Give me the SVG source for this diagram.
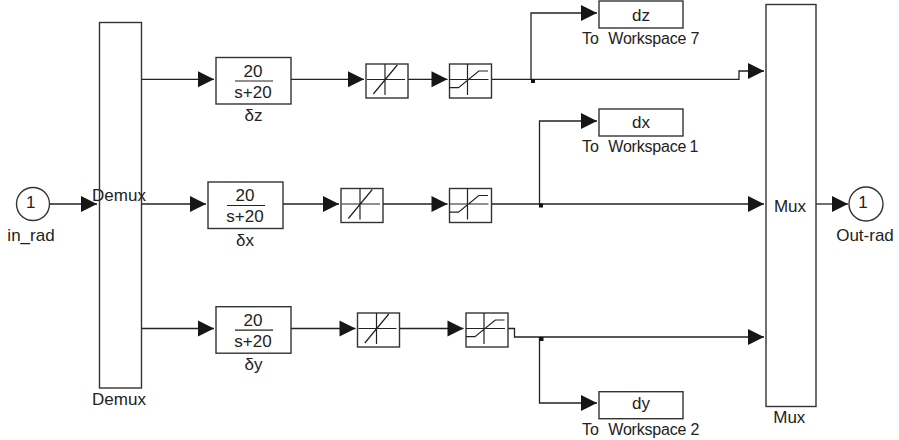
<svg xmlns="http://www.w3.org/2000/svg" width="899" height="440" viewBox="0 0 899 440">
<style>
.b{fill:#fff;stroke:#333;stroke-width:1.4}
.c{fill:none;stroke:#222;stroke-width:1.3;marker-end:url(#a)}
.g{fill:none;stroke:#222;stroke-width:1.2}
text{font-family:"Liberation Sans",Arial,sans-serif;font-size:17px;fill:#222;text-anchor:middle}
.w{font-size:16px;text-anchor:start}
.s{letter-spacing:-.2px}
</style>
<defs>
<marker id="a" markerUnits="userSpaceOnUse" markerWidth="16" markerHeight="16" refX="16" refY="8" orient="auto" overflow="visible"><path d="M0 0L16 8L0 16z" fill="#161616"/></marker>
<g id="dz"><rect class="b" width="42" height="34"/><path class="g" d="M1 15.500H39M19 0V31M7.300 30L31.300 1"/></g>
<g id="st"><rect class="b" width="42" height="34"/><path class="g" d="M0 23.700H9L29.300 7H38.500M0 15.500H39M18 0V31"/></g>
<g id="tf"><rect class="b" width="75" height="46.500"/><path class="g" d="M19 23.500H57"/></g>
</defs>
<g id="connectors">
<path class="c" d="M50 204H97"/>
<path class="c" d="M141.500 79.300H214"/>
<path class="c" d="M291 79.300H364"/>
<path class="c" d="M408 79.300H447.500"/>
<path class="c" d="M491.500 79.300H739V71H764"/>
<path class="c" d="M531 79.300V13H597"/>
<path class="c" d="M141.500 204H206"/>
<path class="c" d="M283 204H339"/>
<path class="c" d="M383 204H447.500"/>
<path class="c" d="M491.500 204H764"/>
<path class="c" d="M539.500 204V121H597"/>
<path class="c" d="M816 204H848"/>
<path class="c" d="M141.500 328.500H214"/>
<path class="c" d="M291 328.500H355.500"/>
<path class="c" d="M399.500 328.500H463.500"/>
<path class="c" d="M508 328.500H514.500V337H764"/>
<path class="c" d="M539.500 337V403H597"/>
<rect x="531" y="79" width="4" height="4" fill="#111"/>
<rect x="539" y="203.500" width="4" height="4" fill="#111"/>
<rect x="539.500" y="337" width="4" height="4" fill="#111"/>
</g>
<g id="in_rad"><circle class="b" cx="33" cy="204" r="16.500"/><text x="30.700" y="207.500">1</text><text x="31" y="240.700">in_rad</text></g>
<g id="demux"><rect class="b" x="99.500" y="22.500" width="42" height="365.500"/><text x="119" y="201">Demux</text><text x="119" y="405">Demux</text></g>
<g id="tf-z"><use href="#tf" x="216" y="57.500"/><text x="253" y="77">20</text><text x="253" y="98.300">s+20</text><text x="253.500" y="120.700">δz</text></g>
<g id="tf-x"><use href="#tf" x="208" y="182"/><text x="245" y="201">20</text><text x="245" y="222.300">s+20</text><text x="245" y="245.700">δx</text></g>
<g id="tf-y"><use href="#tf" x="216" y="306.700"/><text x="253" y="326">20</text><text x="253" y="347.300">s+20</text><text x="253.500" y="369.700">δy</text></g>
<g id="deadzone-z"><use href="#dz" x="366" y="64"/></g>
<g id="deadzone-x"><use href="#dz" x="341" y="188.500"/></g>
<g id="deadzone-y"><use href="#dz" x="357.500" y="313"/></g>
<g id="sat-z"><use href="#st" x="449.500" y="64"/></g>
<g id="sat-x"><use href="#st" x="449.500" y="188.500"/></g>
<g id="sat-y"><use href="#st" x="466" y="313"/></g>
<g id="ws-z"><rect class="b" x="599" y="1" width="84" height="27"/><text x="641" y="20.700">dz</text><text class="w" x="582" y="44.300">To <tspan class="s" x="608.300">Workspace</tspan> <tspan x="690.500">7</tspan></text></g>
<g id="ws-x"><rect class="b" x="599" y="109" width="84" height="27"/><text x="641" y="128.300">dx</text><text class="w" x="582" y="152">To <tspan class="s" x="608.300">Workspace</tspan> <tspan x="689.500">1</tspan></text></g>
<g id="ws-y"><rect class="b" x="599" y="391.700" width="84" height="27"/><text x="641" y="409">dy</text><text class="w" x="582" y="435">To <tspan class="s" x="608.300">Workspace</tspan> <tspan x="690.500">2</tspan></text></g>
<g id="mux"><rect class="b" x="766" y="4.500" width="50" height="402"/><text x="790" y="211.700">Mux</text><text x="789.300" y="423.300">Mux</text></g>
<g id="out-rad"><circle class="b" cx="866" cy="204" r="17"/><text x="863" y="207.500">1</text><text x="865" y="240.700">Out-rad</text></g>
</svg>
